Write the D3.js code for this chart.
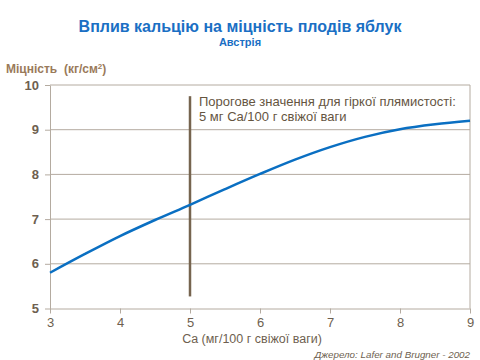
<!DOCTYPE html>
<html><head><meta charset="utf-8">
<script src="https://cdn.jsdelivr.net/npm/d3@7"></script>
<style>
html,body{margin:0;padding:0;background:#fff;}
svg{display:block;font-family:"Liberation Sans",Arial,sans-serif;}
</style></head>
<body>
<svg id="chart" width="480" height="360"></svg>
<script>
const caValues = [3, 3.5, 4, 4.5, 5, 5.5, 6, 6.5, 7, 7.5, 8, 8.5, 9];
const strengthValues = [5.80, 6.22, 6.62, 6.98, 7.32, 7.67, 8.01, 8.33, 8.61, 8.84, 9.01, 9.12, 9.20];
const xTicks = [3, 4, 5, 6, 7, 8, 9];
const yTicks = [5, 6, 7, 8, 9, 10];
const thresholdCa = 5;
const thresholdRange = [5.27, 9.75];
const titleText = "Вплив кальцію на міцність плодів яблук";
const subtitleText = "Австрія";
const yTitle = "Міцність  (кг/см";
const xTitle = "Ca (мг/100 г свіжої ваги)";
const noteLines = ["Порогове значення для гіркої плямистості:", "5 мг Ca/100 г свіжої ваги"];
const sourceText = "Джерело: Lafer and Brugner - 2002";

(function () {
const svg = d3.select("#chart");
const pl = 50, pr = 470, pt = 85, pb = 308.5;
const x = d3.scaleLinear().domain([3, 9]).range([pl, pr]);
const y = d3.scaleLinear().domain([5, 10]).range([pb, pt]);
const gridColor = "#b4aba0";
const labelColor = "#6e5f50";

svg.append("g").selectAll("line").data(yTicks.filter(d => d > 5)).join("line")
  .attr("x1", pl).attr("x2", pr)
  .attr("y1", d => y(d)).attr("y2", d => y(d))
  .attr("stroke", gridColor).attr("stroke-width", 1);
svg.append("line").attr("x1", pr).attr("x2", pr).attr("y1", pt).attr("y2", pb)
  .attr("stroke", gridColor).attr("stroke-width", 1);

const yAxis = svg.append("g").attr("transform", `translate(${pl},0)`)
  .call(d3.axisLeft(y).tickValues(yTicks).tickFormat(d3.format("d")).tickSize(5).tickSizeOuter(0).tickPadding(6));
const xAxis = svg.append("g").attr("transform", `translate(0,${pb})`)
  .call(d3.axisBottom(x).tickValues(xTicks).tickFormat(d3.format("d")).tickSize(5).tickSizeOuter(0).tickPadding(4));
[yAxis, xAxis].forEach(a => {
  a.select(".domain").attr("stroke", gridColor);
  a.selectAll(".tick line").attr("stroke", gridColor);
  a.selectAll(".tick text").attr("fill", labelColor).attr("font-size", 13)
    .attr("font-family", "'Liberation Sans', Arial, sans-serif");
});
yAxis.selectAll(".tick text").attr("font-weight", "bold");

svg.append("line")
  .attr("x1", x(thresholdCa)).attr("x2", x(thresholdCa))
  .attr("y1", y(thresholdRange[1])).attr("y2", y(thresholdRange[0]))
  .attr("stroke", "#76644f").attr("stroke-width", 2.5);

const line = d3.line().x((d, i) => x(caValues[i])).y(d => y(d)).curve(d3.curveCatmullRom);
svg.append("path").datum(strengthValues).attr("d", line)
  .attr("fill", "none").attr("stroke", "#0a6fc2").attr("stroke-width", 2.5);

svg.append("g").selectAll("text").data(noteLines).join("text")
  .attr("x", 199).attr("y", (d, i) => 106 + i * 15)
  .attr("font-size", 13).attr("fill", "#65553f").text(d => d);

svg.append("text").attr("x", 240).attr("y", 32).attr("text-anchor", "middle")
  .attr("font-size", 16).attr("font-weight", "bold").attr("fill", "#1a6fc4").text(titleText);
svg.append("text").attr("x", 240).attr("y", 46).attr("text-anchor", "middle")
  .attr("font-size", 11).attr("font-weight", "bold").attr("fill", "#1a6fc4").text(subtitleText);

const yt = svg.append("text").attr("x", 6).attr("y", 73)
  .attr("font-size", 12).attr("font-weight", "bold").attr("fill", "#9a7a5a")
  .attr("xml:space", "preserve");
yt.append("tspan").text(yTitle);
yt.append("tspan").attr("font-size", 8).attr("dy", -4).text("2");
yt.append("tspan").attr("dy", 4).text(")");

svg.append("text").attr("x", 252).attr("y", 343).attr("text-anchor", "middle")
  .attr("font-size", 12.5).attr("fill", labelColor).text(xTitle);
svg.append("text").attr("x", 470).attr("y", 358).attr("text-anchor", "end")
  .attr("font-size", 9.8).attr("font-style", "italic").attr("fill", labelColor).text(sourceText);
})();
</script>
</body></html>
